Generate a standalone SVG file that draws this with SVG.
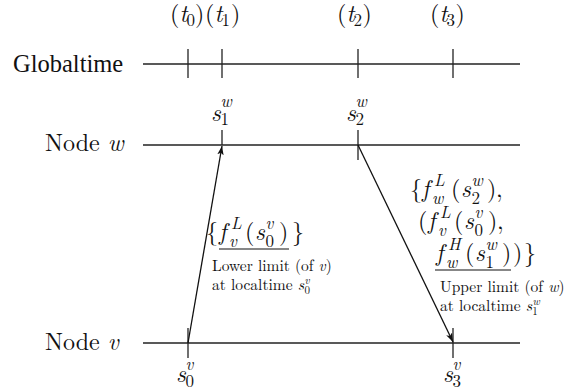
<svg xmlns="http://www.w3.org/2000/svg" width="585" height="389" viewBox="0 0 585 389">
<style>
text { fill: #111; font-family: 'Latin Modern Roman', 'Liberation Serif', serif; }
.tm { font-family: 'Liberation Serif', 'Times New Roman', serif; font-size: 24.5px; }
.m { font-size: 24px; }
.i { font-style: italic; }
.sc { font-size: 17px; }
.sm { font-size: 15.5px; }
.ssc { font-size: 11px; }
.lbl { font-size: 24px; }
.ax { stroke: #222; stroke-width: 1.3; fill: none; }
.tk { stroke: #222; stroke-width: 1.3; }
.ar { stroke: #111; stroke-width: 1.3; fill: none; marker-end: url(#ah); }
.ul { stroke: #111; stroke-width: 1.2; }
</style>
<defs>
<marker id="ah" markerWidth="10" markerHeight="8" refX="9" refY="4" orient="auto" markerUnits="userSpaceOnUse">
<path d="M0,0.8 L9,4 L0,7.2 L2.2,4 Z" fill="#111"/>
</marker>
</defs>

<g id="globaltime">
<text class="tm" x="13" y="72">Globaltime</text>
<line class="ax" x1="143" y1="64" x2="520" y2="64"/>
<line class="tk" x1="188" y1="49" x2="188" y2="78"/>
<line class="tk" x1="222" y1="49" x2="222" y2="78"/>
<line class="tk" x1="358" y1="49" x2="358" y2="78"/>
<line class="tk" x1="453" y1="49" x2="453" y2="78"/>
<text class="m" x="170" y="22">(<tspan class="i" x="179.5">t</tspan><tspan class="sc" x="186.5" y="26">0</tspan><tspan x="195" y="22">)</tspan></text>
<text class="m" x="205" y="22">(<tspan class="i" x="214.5">t</tspan><tspan class="sc" x="221.5" y="26">1</tspan><tspan x="231" y="22">)</tspan></text>
<text class="m" x="337" y="22">(<tspan class="i" x="346.5">t</tspan><tspan class="sc" x="353.5" y="26">2</tspan><tspan x="362.5" y="22">)</tspan></text>
<text class="m" x="430" y="22">(<tspan class="i" x="439.5">t</tspan><tspan class="sc" x="446.5" y="26">3</tspan><tspan x="455.5" y="22">)</tspan></text>
</g>

<g id="node-w">
<text class="lbl" x="45" y="151">Node <tspan class="i">w</tspan></text>
<line class="ax" x1="143" y1="145" x2="520" y2="145"/>
<line class="tk" x1="222" y1="130" x2="222" y2="145"/>
<line class="tk" x1="358" y1="130" x2="358" y2="160"/>
<text class="m i" x="211" y="121">s<tspan class="sc" x="220.5" y="107">w</tspan><tspan class="sc" style="font-style:normal" x="220.5" y="125">1</tspan></text>
<text class="m i" x="346" y="121">s<tspan class="sc" x="355.5" y="107">w</tspan><tspan class="sc" style="font-style:normal" x="355.5" y="125">2</tspan></text>
</g>

<g id="node-v">
<text class="lbl" x="45" y="350">Node <tspan class="i">v</tspan></text>
<line class="ax" x1="143" y1="343" x2="520" y2="343"/>
<line class="tk" x1="188" y1="328" x2="188" y2="358"/>
<line class="tk" x1="453" y1="328" x2="453" y2="358"/>
<text class="m i" x="176" y="382">s<tspan class="sc" x="185.5" y="370">v</tspan><tspan class="sc" style="font-style:normal" x="185.5" y="387">0</tspan></text>
<text class="m i" x="443" y="382">s<tspan class="sc" x="452.5" y="370">v</tspan><tspan class="sc" style="font-style:normal" x="452.5" y="387">3</tspan></text>
</g>

<g id="connectors">
<line class="ar" x1="188" y1="343" x2="222" y2="146"/>
<line class="ar" x1="358" y1="145" x2="453" y2="342"/>
</g>

<g id="label-lower">
<text class="m" x="206" y="240">{<tspan class="i" x="219">f</tspan><tspan class="sc i" x="231" y="229">L</tspan><tspan class="sc i" x="229" y="247">v</tspan><tspan x="245" y="240">(</tspan><tspan class="i" x="255">s</tspan><tspan class="sc i" x="265.5" y="229">v</tspan><tspan class="sc" x="265.5" y="247">0</tspan><tspan x="279" y="240">)</tspan><tspan x="292">}</tspan></text>
<line class="ul" x1="219" y1="249" x2="289" y2="249"/>
<text class="sm" x="212" y="271">Lower limit (of <tspan class="i">v</tspan>)</text>
<text class="sm" x="212" y="290">at localtime <tspan class="i">s</tspan><tspan class="ssc i" dx="0.6" dy="-6">v</tspan><tspan class="ssc" dx="-5.3" dy="10">0</tspan></text>
</g>

<g id="label-upper">
<text class="m" x="410" y="197">{<tspan class="i" x="422">f</tspan><tspan class="sc i" x="434" y="186">L</tspan><tspan class="sc i" x="432" y="204">w</tspan><tspan x="451" y="197">(</tspan><tspan class="i" x="461">s</tspan><tspan class="sc i" x="471.5" y="186">w</tspan><tspan class="sc" x="471.5" y="204">2</tspan><tspan x="487" y="197">)</tspan><tspan x="496">,</tspan></text>
<text class="m" x="418" y="229">(<tspan class="i" x="428">f</tspan><tspan class="sc i" x="440" y="218">L</tspan><tspan class="sc i" x="438" y="236">v</tspan><tspan x="454" y="229">(</tspan><tspan class="i" x="464">s</tspan><tspan class="sc i" x="474.5" y="218">v</tspan><tspan class="sc" x="474.5" y="236">0</tspan><tspan x="488" y="229">)</tspan><tspan x="497">,</tspan></text>
<text class="m" x="436" y="261"><tspan class="i">f</tspan><tspan class="sc i" x="448" y="250">H</tspan><tspan class="sc i" x="446" y="268">w</tspan><tspan x="465" y="261">(</tspan><tspan class="i" x="475">s</tspan><tspan class="sc i" x="485.5" y="250">w</tspan><tspan class="sc" x="485.5" y="268">1</tspan><tspan x="502" y="261">)</tspan><tspan x="513">)</tspan><tspan x="524">}</tspan></text>
<line class="ul" x1="435" y1="270" x2="511" y2="270"/>
<text class="sm" x="440" y="292">Upper limit (of <tspan class="i">w</tspan>)</text>
<text class="sm" x="440" y="311">at localtime <tspan class="i">s</tspan><tspan class="ssc i" dx="0.6" dy="-6">w</tspan><tspan class="ssc" dx="-7.6" dy="10">1</tspan></text>
</g>
</svg>
